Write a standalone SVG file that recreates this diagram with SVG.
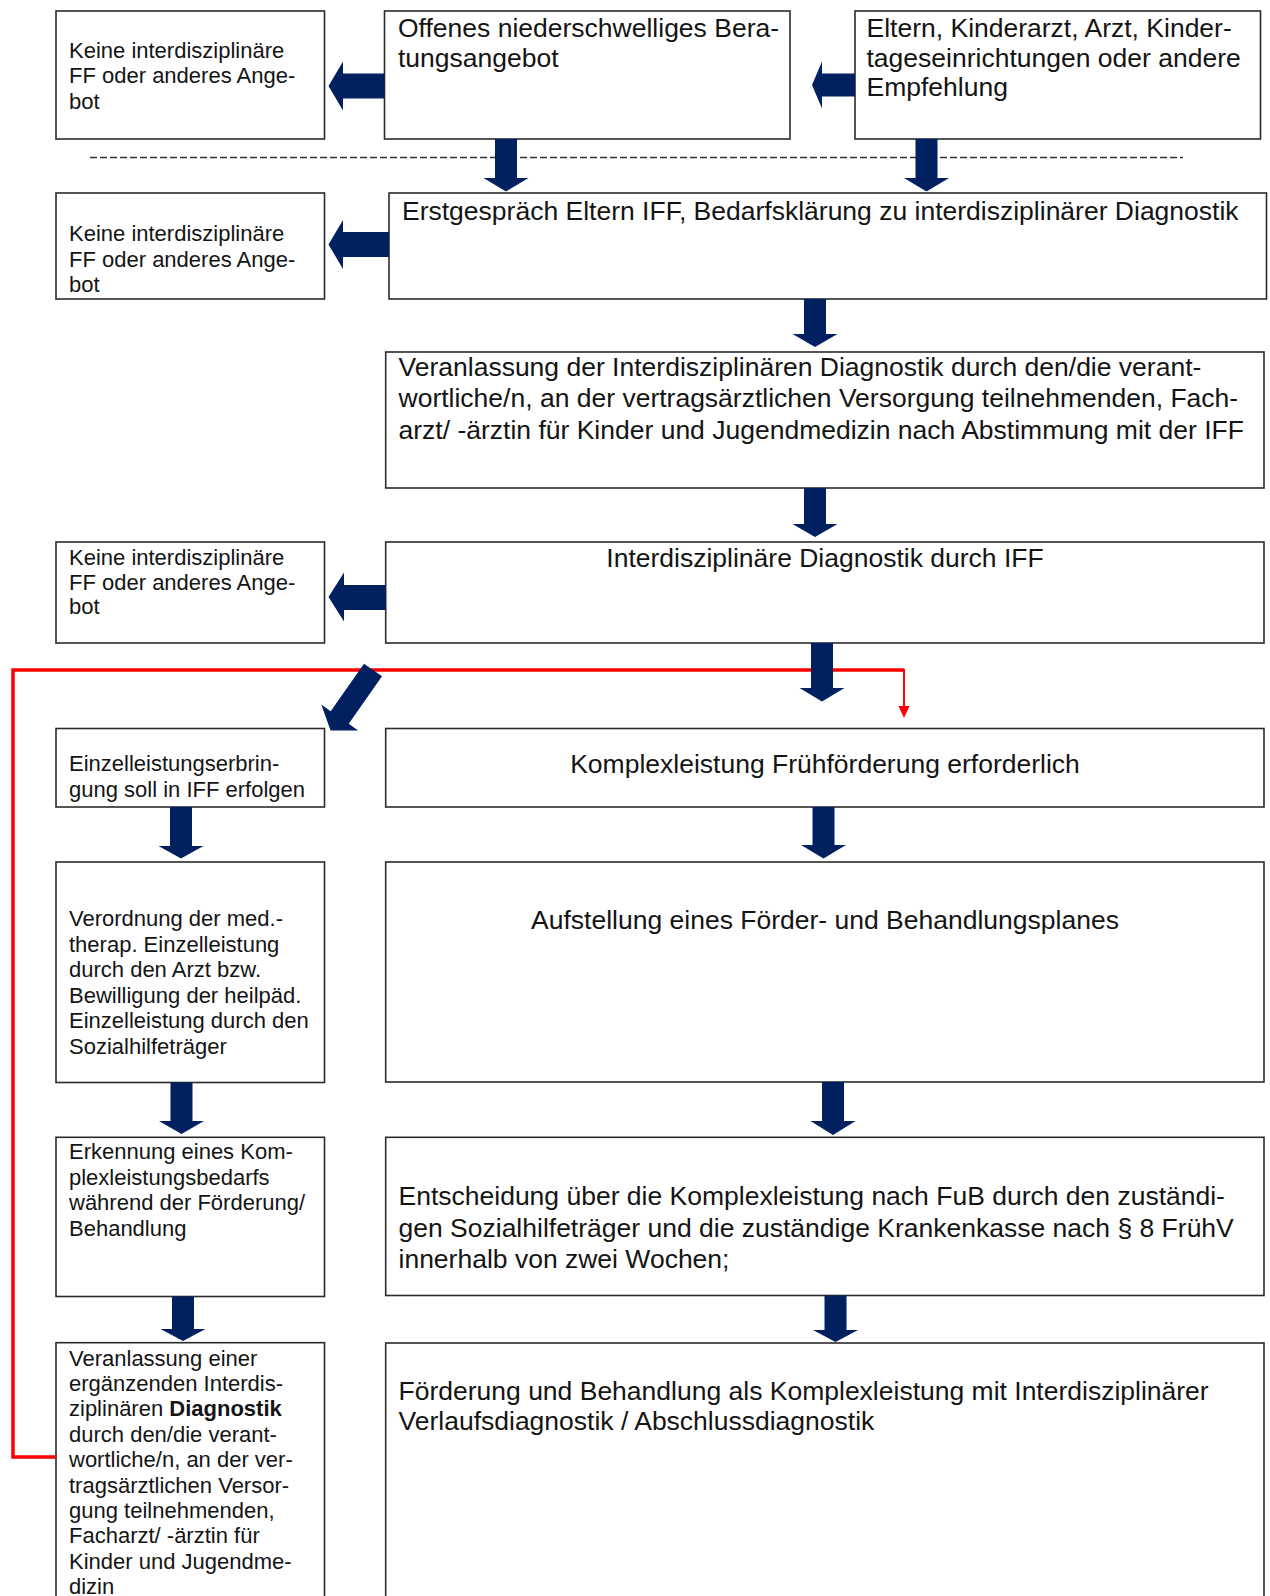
<svg xmlns="http://www.w3.org/2000/svg" width="1270" height="1596" viewBox="0 0 1270 1596">
<style>
  .box { fill: #ffffff; stroke: #2b2b2b; stroke-width: 1.6; }
  .t { font-family: "Liberation Sans", Arial, sans-serif; font-size: 26.5px; fill: #141414; }
  .s { font-family: "Liberation Sans", Arial, sans-serif; font-size: 22px; fill: #141414; }
  .c { text-anchor: middle; }
  .blk { fill: #002060; }
  .red { fill: none; stroke: #ff0000; stroke-width: 3.5; }
  .redthin { fill: none; stroke: #ff0000; stroke-width: 2; }
  .dash { stroke: #333333; stroke-width: 1.3; stroke-dasharray: 7 3; fill: none; }
</style>
<rect x="0" y="0" width="1270" height="1596" fill="#ffffff"/>

<g id="nodes">
  <g id="n-keine1">
    <rect class="box" x="56" y="11" width="268.5" height="128"/>
    <text class="s" x="69" y="57.5">Keine interdisziplinäre</text>
    <text class="s" x="69" y="83">FF oder anderes Ange-</text>
    <text class="s" x="69" y="108.5">bot</text>
  </g>
  <g id="n-offenes">
    <rect class="box" x="384.5" y="11" width="405.5" height="128"/>
    <text class="t" x="398" y="37">Offenes niederschwelliges Bera-</text>
    <text class="t" x="398" y="66.5">tungsangebot</text>
  </g>
  <g id="n-eltern">
    <rect class="box" x="855" y="11" width="405.5" height="128"/>
    <text class="t" x="866.5" y="37">Eltern, Kinderarzt, Arzt, Kinder-</text>
    <text class="t" x="866.5" y="66.5">tageseinrichtungen oder andere</text>
    <text class="t" x="866.5" y="96">Empfehlung</text>
  </g>
  <g id="n-keine2">
    <rect class="box" x="56" y="193" width="268.5" height="106"/>
    <text class="s" x="69" y="241">Keine interdisziplinäre</text>
    <text class="s" x="69" y="266.5">FF oder anderes Ange-</text>
    <text class="s" x="69" y="292">bot</text>
  </g>
  <g id="n-erstgespraech">
    <rect class="box" x="389" y="193" width="877.5" height="106"/>
    <text class="t" x="402" y="220">Erstgespräch Eltern IFF, Bedarfsklärung zu interdisziplinärer Diagnostik</text>
  </g>
  <g id="n-veranlassung">
    <rect class="box" x="385.7" y="352" width="878.3" height="136"/>
    <text class="t" x="398.5" y="375.5">Veranlassung der Interdisziplinären Diagnostik durch den/die verant-</text>
    <text class="t" x="398.5" y="407">wortliche/n, an der vertragsärztlichen Versorgung teilnehmenden, Fach-</text>
    <text class="t" x="398.5" y="438.5">arzt/ -ärztin für Kinder und Jugendmedizin nach Abstimmung mit der IFF</text>
  </g>
  <g id="n-keine3">
    <rect class="box" x="56" y="542" width="268.5" height="101"/>
    <text class="s" x="69" y="564.5">Keine interdisziplinäre</text>
    <text class="s" x="69" y="589.5">FF oder anderes Ange-</text>
    <text class="s" x="69" y="614">bot</text>
  </g>
  <g id="n-diagnostik">
    <rect class="box" x="385.7" y="542" width="878.3" height="101"/>
    <text class="t c" x="825" y="567">Interdisziplinäre Diagnostik durch IFF</text>
  </g>
  <g id="n-einzel">
    <rect class="box" x="56" y="728.5" width="268.5" height="78.5"/>
    <text class="s" x="69" y="771">Einzelleistungserbrin-</text>
    <text class="s" x="69" y="796.5">gung soll in IFF erfolgen</text>
  </g>
  <g id="n-komplex">
    <rect class="box" x="385.7" y="728.5" width="878.3" height="78.5"/>
    <text class="t c" x="825" y="773">Komplexleistung Frühförderung erforderlich</text>
  </g>
  <g id="n-verordnung">
    <rect class="box" x="56" y="862" width="268.5" height="220.5"/>
    <text class="s" x="69" y="926">Verordnung der med.-</text>
    <text class="s" x="69" y="951.6">therap. Einzelleistung</text>
    <text class="s" x="69" y="977.2">durch den Arzt bzw.</text>
    <text class="s" x="69" y="1002.8">Bewilligung der heilpäd.</text>
    <text class="s" x="69" y="1028.4">Einzelleistung durch den</text>
    <text class="s" x="69" y="1054">Sozialhilfeträger</text>
  </g>
  <g id="n-aufstellung">
    <rect class="box" x="385.7" y="862" width="878.3" height="220"/>
    <text class="t c" x="825" y="929">Aufstellung eines Förder- und Behandlungsplanes</text>
  </g>
  <g id="n-erkennung">
    <rect class="box" x="56" y="1137.3" width="268.5" height="159.2"/>
    <text class="s" x="69" y="1159">Erkennung eines Kom-</text>
    <text class="s" x="69" y="1184.5">plexleistungsbedarfs</text>
    <text class="s" x="69" y="1210">während der Förderung/</text>
    <text class="s" x="69" y="1235.5">Behandlung</text>
  </g>
  <g id="n-entscheidung">
    <rect class="box" x="385.7" y="1137.3" width="878.3" height="158.2"/>
    <text class="t" x="398.5" y="1205">Entscheidung über die Komplexleistung nach FuB durch den zuständi-</text>
    <text class="t" x="398.5" y="1236.5">gen Sozialhilfeträger und die zuständige Krankenkasse nach § 8 FrühV</text>
    <text class="t" x="398.5" y="1268">innerhalb von zwei Wochen;</text>
  </g>
  <g id="n-ergaenzend">
    <rect class="box" x="56" y="1342.7" width="268.5" height="270"/>
    <text class="s" x="69" y="1365.5">Veranlassung einer</text>
    <text class="s" x="69" y="1390.9">ergänzenden Interdis-</text>
    <text class="s" x="69" y="1416.3">ziplinären <tspan font-weight="bold">Diagnostik</tspan></text>
    <text class="s" x="69" y="1441.7">durch den/die verant-</text>
    <text class="s" x="69" y="1467.1">wortliche/n, an der ver-</text>
    <text class="s" x="69" y="1492.5">tragsärztlichen Versor-</text>
    <text class="s" x="69" y="1517.9">gung teilnehmenden,</text>
    <text class="s" x="69" y="1543.3">Facharzt/ -ärztin für</text>
    <text class="s" x="69" y="1568.7">Kinder und Jugendme-</text>
    <text class="s" x="69" y="1594.1">dizin</text>
  </g>
  <g id="n-foerderung">
    <rect class="box" x="385.7" y="1343" width="878.3" height="270"/>
    <text class="t" x="398.5" y="1400">Förderung und Behandlung als Komplexleistung mit Interdisziplinärer</text>
    <text class="t" x="398.5" y="1429.5">Verlaufsdiagnostik / Abschlussdiagnostik</text>
  </g>
</g>

<g id="connectors">
  <line class="dash" x1="90" y1="157.5" x2="1183" y2="157.5"/>
  <polyline class="red" points="56,1457 13,1457 13,670 904,670"/>
  <polyline class="redthin" points="904,669 904,708"/>
  <polygon fill="#ff0000" points="898.5,706 909.5,706 904,718"/>

  <polygon class="blk" points="495,139 517,139 517,178 528.5,178 506,191.5 483.5,178 495,178"/>
  <polygon class="blk" points="915.5,139 937.5,139 937.5,178 949,178 926.5,191.5 904,178 915.5,178"/>
  <polygon class="blk" points="804,299 826,299 826,334 837.5,334 815,347 792.5,334 804,334"/>
  <polygon class="blk" points="804,488 826,488 826,524 837.5,524 815,537 792.5,524 804,524"/>
  <polygon class="blk" points="811,643 833,643 833,688 844.5,688 822,701.5 799.5,688 811,688"/>
  <polygon class="blk" points="812.5,807 834.5,807 834.5,845 846,845 823.5,858.5 801,845 812.5,845"/>
  <polygon class="blk" points="822,1082 844,1082 844,1121 855.5,1121 833,1135 810.5,1121 822,1121"/>
  <polygon class="blk" points="824.5,1295.5 846.5,1295.5 846.5,1330 858,1330 835.5,1342 813,1330 824.5,1330"/>
  <polygon class="blk" points="170,807 192,807 192,846 203.5,846 181,858.5 158.5,846 170,846"/>
  <polygon class="blk" points="170.5,1082.5 192.5,1082.5 192.5,1121 204,1121 181.5,1134 159,1121 170.5,1121"/>
  <polygon class="blk" points="172,1296.5 194,1296.5 194,1329 205.5,1329 183,1341 160.5,1329 172,1329"/>

  <polygon class="blk" points="384.5,73.5 384.5,98.5 343,98.5 343,110.5 328.5,86 343,61.5 343,73.5"/>
  <polygon class="blk" points="855,73.5 855,96.5 822,96.5 822,108.5 812,85 822,61.5 822,73.5"/>
  <polygon class="blk" points="389,232 389,257 343,257 343,269 328.5,244.5 343,220 343,232"/>
  <polygon class="blk" points="385.7,585 385.7,610 344,610 344,621.5 328.5,597 344,572.5 344,585"/>

  <polygon class="blk" transform="translate(373,670) rotate(35)" points="-11,0 11,0 11,58 22.5,58 0,74 -22.5,58 -11,58"/>
</g>
</svg>
